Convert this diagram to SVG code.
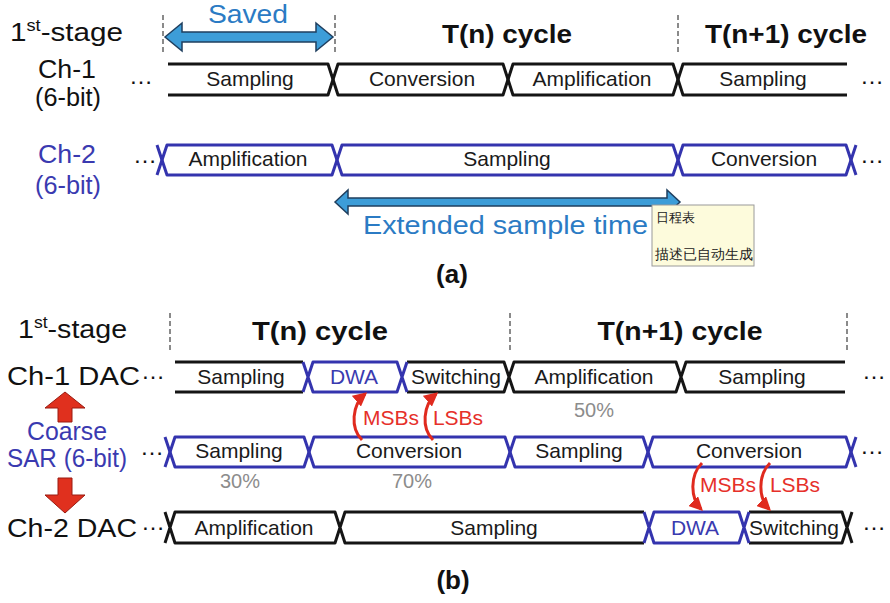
<svg xmlns="http://www.w3.org/2000/svg" width="890" height="603" viewBox="0 0 890 603">
<style>
text{font-family:"Liberation Sans",Arial,sans-serif}
.lbl{font-size:21px;fill:#1a1a1a;text-anchor:middle}
.big{font-size:26px;fill:#111}
.mid{text-anchor:middle}
.ttl{font-size:26px;font-weight:bold;fill:#111;text-anchor:middle}
.dots{font-size:24px;fill:#111}
.k{stroke:#151515;stroke-width:3;fill:none;stroke-linejoin:round}
.b{stroke:#3434ae;stroke-width:3;fill:none;stroke-linejoin:round}
.bt{fill:#3a3ab0}
.dash{stroke:#8a8a8a;stroke-width:2;stroke-dasharray:5 3;fill:none}
.red{fill:#e6302a;font-size:21px;text-anchor:middle}
.pct{fill:#8c8c8c;font-size:20px;text-anchor:middle}
.cur{stroke:#e02a1e;stroke-width:3;fill:none}
.barrow{fill:#3d9dd8;stroke:#1f3f5f;stroke-width:1.5;stroke-linejoin:miter}
.rarrow{fill:#e0301e;stroke:#9a1a10;stroke-width:1}
.stxt{fill:#2b7bc4}
</style>
<defs>
<marker id="rh" viewBox="0 0 10 10" refX="8" refY="5" markerUnits="userSpaceOnUse" markerWidth="14" markerHeight="14" orient="auto">
<path d="M0,0 L10,5 L0,10 z" fill="#e02a1e"/>
</marker>
</defs>
<rect width="890" height="603" fill="#fff"/>

<!-- (a) -->
<g id="a-header">
<text class="big" transform="translate(10,41) scale(1.14,1)" font-size="27">1<tspan font-size="16" dy="-10">st</tspan><tspan dy="10">-stage</tspan></text>
<text class="ttl" x="507" y="43" textLength="130" lengthAdjust="spacingAndGlyphs">T(n) cycle</text>
<text class="ttl" x="786" y="43" textLength="162" lengthAdjust="spacingAndGlyphs">T(n+1) cycle</text>
<path class="dash" d="M163,15V54M335,15V54M678,15V54"/>
</g>
<g id="a-saved">
<polygon class="barrow" points="165,37 182,23 182,32 316,32 316,23 333,37 316,51 316,42 182,42 182,51"/>
<text class="stxt mid" x="248" y="23" font-size="25" textLength="80" lengthAdjust="spacingAndGlyphs">Saved</text>
</g>
<g id="a-ch1">
<text class="big mid" x="67" y="78" font-size="24" textLength="58" lengthAdjust="spacingAndGlyphs">Ch-1</text>
<text class="big mid" x="68" y="106" font-size="24" textLength="66" lengthAdjust="spacingAndGlyphs">(6-bit)</text>
<text class="dots" x="129" y="84">…</text>
<path class="k" d="M168,64H328L338,95H503L513,64H673L683,95H847"/>
<path class="k" d="M168,95H328L338,64H503L513,95H673L683,64H847"/>
<text class="lbl" x="250" y="86">Sampling</text>
<text class="lbl" x="422" y="86">Conversion</text>
<text class="lbl" x="592" y="86">Amplification</text>
<text class="lbl" x="763" y="86">Sampling</text>
<text class="dots" x="860" y="84">…</text>
</g>
<g id="a-ch2">
<text class="big mid bt" x="67" y="163" font-size="24" textLength="58" lengthAdjust="spacingAndGlyphs">Ch-2</text>
<text class="big mid bt" x="68" y="194" font-size="24" textLength="66" lengthAdjust="spacingAndGlyphs">(6-bit)</text>
<text class="dots" x="133" y="163">…</text>
<path class="b" d="M157,145L167,175H332L342,145H673L683,175H846L856,145"/>
<path class="b" d="M157,175L167,145H332L342,175H673L683,145H846L856,175"/>
<text class="lbl" x="248" y="166">Amplification</text>
<text class="lbl" x="507" y="166">Sampling</text>
<text class="lbl" x="764" y="166">Conversion</text>
<text class="dots" x="860" y="163">…</text>
</g>
<g id="a-extended">
<polygon class="barrow" points="335,202 348,190 348,198 667,198 667,190 680,202 667,214 667,206 348,206 348,214"/>
<text class="stxt" x="363" y="234" font-size="26" textLength="285" lengthAdjust="spacingAndGlyphs">Extended sample time</text>
</g>
<g id="a-tooltip">
<rect x="652" y="205" width="102" height="61" fill="#fdfbdc" stroke="#9a9a9a" stroke-width="1"/>
<text x="656" y="222" font-size="13" fill="#222" font-family="'Noto Sans CJK SC',sans-serif">日程表</text>
<text x="655" y="259" font-size="13.5" fill="#222" font-family="'Noto Sans CJK SC',sans-serif">描述已自动生成</text>
</g>
<text id="cap-a" class="ttl" x="452" y="283" font-size="24">(a)</text>

<!-- (b) -->
<g id="b-header">
<text class="big" transform="translate(18,338) scale(1.1,1)" font-size="27">1<tspan font-size="16" dy="-10">st</tspan><tspan dy="10">-stage</tspan></text>
<text class="ttl" x="320" y="340" textLength="136" lengthAdjust="spacingAndGlyphs">T(n) cycle</text>
<text class="ttl" x="680" y="340" textLength="165" lengthAdjust="spacingAndGlyphs">T(n+1) cycle</text>
<path class="dash" d="M170,313V350M510,313V350M847,313V350"/>
</g>
<g id="b-ch1dac">
<text class="big" x="7" y="385" textLength="133" lengthAdjust="spacingAndGlyphs">Ch-1 DAC</text>
<text class="dots" x="141" y="379">…</text>
<path class="k" d="M175,362H303M175,392H303M407,362H504L514,392H676L686,362H845M407,392H504L514,362H676L686,392H845"/>
<path class="b" d="M303,362L313,392H397L407,362M303,392L313,362H397L407,392"/>
<text class="lbl" x="241" y="384">Sampling</text>
<text class="lbl" x="354" y="384" style="fill:#3a3ab0">DWA</text>
<text class="lbl" x="456" y="384">Switching</text>
<text class="lbl" x="594" y="384">Amplification</text>
<text class="lbl" x="762" y="384">Sampling</text>
<text class="dots" x="862" y="379">…</text>
<text class="pct" x="594" y="417">50%</text>
</g>
<g id="b-coarse">
<polygon class="rarrow" points="65,392 85,408 72,408 72,422 58,422 58,408 45,408"/>
<text class="big mid bt" x="67" y="440" font-size="23" textLength="80" lengthAdjust="spacingAndGlyphs">Coarse</text>
<text class="big mid bt" x="67" y="467" font-size="23" textLength="120" lengthAdjust="spacingAndGlyphs">SAR (6-bit)</text>
<polygon class="rarrow" points="58,478 72,478 72,495 85,495 65,513 45,495 58,495"/>
<text class="dots" x="140" y="455">…</text>
<path class="b" d="M165,437L175,467H304L314,437H505L515,467H643L653,437H846L856,467"/>
<path class="b" d="M165,467L175,437H304L314,467H505L515,437H643L653,467H846L856,437"/>
<text class="lbl" x="239" y="458">Sampling</text>
<text class="lbl" x="409" y="458">Conversion</text>
<text class="lbl" x="579" y="458">Sampling</text>
<text class="lbl" x="749" y="458">Conversion</text>
<text class="dots" x="860" y="454">…</text>
<text class="pct" x="240" y="488">30%</text>
<text class="pct" x="412" y="488">70%</text>
</g>
<g id="b-ch2dac">
<text class="big" x="7" y="537" textLength="130" lengthAdjust="spacingAndGlyphs">Ch-2 DAC</text>
<text class="dots" x="141" y="530">…</text>
<path class="k" d="M165,512L175,543H335L345,512H644M165,543L175,512H335L345,543H644M749,512H842L852,543M749,543H842L852,512"/>
<path class="b" d="M644,512L654,543H739L749,512M644,543L654,512H739L749,543"/>
<text class="lbl" x="254" y="535">Amplification</text>
<text class="lbl" x="494" y="535">Sampling</text>
<text class="lbl" x="695" y="535" style="fill:#3a3ab0">DWA</text>
<text class="lbl" x="794" y="535">Switching</text>
<text class="dots" x="862" y="530">…</text>
</g>
<g id="connectors">
<path class="cur" marker-end="url(#rh)" d="M362,440C350,428 352,405 365,394"/>
<path class="cur" marker-end="url(#rh)" d="M433,440C421,428 423,405 436,394"/>
<path class="cur" marker-end="url(#rh)" d="M702,463C690,475 690,498 701,509"/>
<path class="cur" marker-end="url(#rh)" d="M770,463C758,475 758,498 769,509"/>
<text class="red" x="391" y="425">MSBs</text>
<text class="red" x="458" y="425">LSBs</text>
<text class="red" x="728" y="492">MSBs</text>
<text class="red" x="795" y="492">LSBs</text>
</g>
<text id="cap-b" class="ttl" x="453" y="589" font-size="24">(b)</text>
</svg>
